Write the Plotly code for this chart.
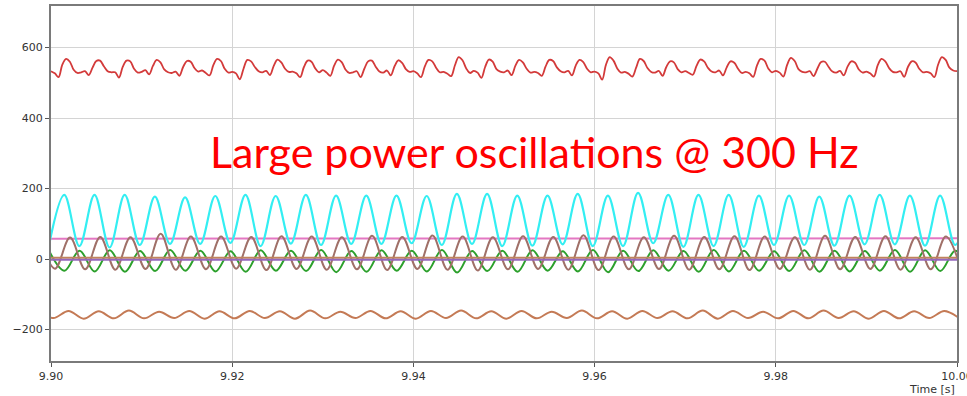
import plotly.graph_objects as go

# ---------------- data ----------------
T0 = 9.90
HALF_PERIOD = 1 / 600      # extremes of the 300 Hz oscillations
RED_STEP = 1 / 2400        # 8 samples per 300 Hz period for the red trace

x_ticks = [9.90, 9.92, 9.94, 9.96, 9.98, 10.00]
x_tick_labels = ["9.90", "9.92", "9.94", "9.96", "9.98", "10.00"]
y_ticks = [-200, 0, 200, 400, 600]

# red trace (top), 8 samples per period starting at 9.90 s
red_values = [
    533, 527, 516, 552, 568, 560, 537, 528,
    530, 533, 522, 543, 562, 563, 547, 533,
    530, 530, 515, 545, 563, 561, 540, 529,
    531, 536, 524, 548, 565, 558, 538, 530,
    528, 532, 520, 545, 562, 560, 542, 532,
    535, 528, 521, 550, 568, 562, 540, 529,
    531, 527, 510, 540, 565, 561, 545, 533,
    530, 534, 522, 548, 566, 558, 540, 531,
    532, 527, 516, 545, 563, 560, 541, 530,
    536, 529, 520, 549, 566, 559, 538, 528,
    530, 533, 516, 540, 561, 563, 546, 532,
    529, 535, 521, 547, 564, 557, 539, 531,
    533, 527, 516, 546, 565, 561, 543, 530,
    531, 526, 519, 550, 573, 564, 541, 528,
    534, 529, 514, 545, 566, 560, 539, 532,
    530, 535, 522, 548, 565, 558, 540, 529,
    531, 528, 520, 546, 565, 562, 544, 533,
    530, 534, 521, 549, 565, 559, 540, 530,
    532, 527, 509, 551, 573, 563, 541, 529,
    531, 526, 518, 543, 568, 562, 542, 531,
    529, 534, 520, 545, 561, 558, 539, 530,
    533, 528, 523, 548, 566, 561, 543, 532,
    530, 535, 521, 544, 561, 557, 540, 528,
    531, 527, 517, 549, 568, 563, 541, 530,
    534, 529, 518, 551, 571, 562, 539, 531,
    530, 533, 519, 540, 559, 560, 545, 532,
    529, 534, 521, 546, 561, 557, 538, 529,
    532, 527, 518, 550, 568, 561, 542, 531,
    530, 533, 517, 545, 561, 558, 540, 530,
    531, 527, 516, 552, 573, 565, 543, 535,
    533,
]

# cyan: alternating trough / peak, first trough at 9.89980 s
cyan_start = 9.89980
cyan_values = [
    42, 182, 37, 182, 33, 182, 40, 177, 43, 175, 43, 179, 46, 182, 37, 179,
    44, 182, 40, 180, 43, 180, 43, 180, 45, 179, 40, 185, 43, 185, 37, 180,
    38, 180, 42, 185, 37, 180, 37, 188, 45, 182, 35, 182, 37, 182, 35, 180,
    40, 180, 40, 177, 38, 180, 42, 182, 42, 180, 38, 180, 40, 180,
]

# green: alternating peak / trough, first peak at 9.89982 s
green_start = 9.89982
green_values = [
    22, -33, 24, -35, 25, -36, 23, -34, 26, -33, 24, -35, 22, -36, 25, -33,
    24, -34, 26, -37, 23, -36, 25, -33, 24, -35, 26, -38, 23, -34, 24, -36,
    25, -33, 22, -35, 26, -37, 24, -34, 25, -33, 23, -36, 26, -35, 24, -33,
    22, -34, 25, -36, 24, -35, 23, -33, 26, -36, 25, -34, 24, -33,
]

# brown (middle): alternating peak / trough, first peak at 9.89877 s
brown_start = 9.89877
brown_values = [
    60, -27, 61, -29, 63, -30, 62, -28, 72, -30, 64, -29, 64, -27, 63, -31,
    65, -28, 64, -30, 62, -29, 66, -31, 63, -28, 67, -30, 64, -32, 62, -29,
    65, -28, 63, -30, 68, -31, 64, -29, 62, -28, 66, -30, 63, -29, 65, -31,
    64, -28, 62, -30, 66, -29, 63, -28, 65, -30, 62, -29, 64, -28,
]

# brown (bottom): alternating peak / trough, first peak at 9.89860 s
bottom_start = 9.89860
bottom_values = [
    -148, -167, -147, -169, -148, -168, -146, -168, -149, -167, -147, -169,
    -148, -168, -147, -167, -148, -169, -146, -168, -149, -167, -147, -168,
    -148, -169, -147, -167, -146, -168, -148, -169, -147, -168, -149, -167,
    -146, -168, -148, -169, -147, -167, -148, -168, -146, -169, -147, -167,
    -149, -168, -147, -168, -146, -167, -148, -169, -147, -168, -148, -167,
    -147, -168,
]

# nearly flat traces
flat_times = [9.90, 9.95, 10.00]
pink_values = [58, 58, 59]
orange_zero_values = [4, 4, 4]
purple_zero_values = [-2, -2, -2]

annotation_text = "Large power oscillations @ 300 Hz"
x_title = "Time [s]"


def times(start, step, n):
    return [start + i * step for i in range(n)]


fig = go.Figure()

fig.add_trace(go.Scatter(x=flat_times, y=pink_values, mode="lines",
                         line=dict(color="#e377c2", width=2)))
fig.add_trace(go.Scatter(x=times(cyan_start, HALF_PERIOD, len(cyan_values)), y=cyan_values,
                         mode="lines", line=dict(color="#33eef2", width=2.2, shape="spline")))
fig.add_trace(go.Scatter(x=times(green_start, HALF_PERIOD, len(green_values)), y=green_values,
                         mode="lines", line=dict(color="#2ca02c", width=2, shape="spline")))
fig.add_trace(go.Scatter(x=times(brown_start, HALF_PERIOD, len(brown_values)), y=brown_values,
                         mode="lines", line=dict(color="#a07068", width=2, shape="spline")))
fig.add_trace(go.Scatter(x=flat_times, y=orange_zero_values, mode="lines",
                         line=dict(color="#c0845c", width=2)))
fig.add_trace(go.Scatter(x=flat_times, y=purple_zero_values, mode="lines",
                         line=dict(color="#9467bd", width=2)))
fig.add_trace(go.Scatter(x=times(bottom_start, HALF_PERIOD, len(bottom_values)), y=bottom_values,
                         mode="lines", line=dict(color="#c47a55", width=2, shape="spline")))
fig.add_trace(go.Scatter(x=times(T0, RED_STEP, len(red_values)), y=red_values,
                         mode="lines", line=dict(color="#d33a3a", width=1.8, shape="spline")))

axis_common = dict(
    showgrid=True, gridcolor="#d4d4d4", gridwidth=1,
    showline=True, linecolor="#7a7a7a", linewidth=2, mirror=True,
    ticks="outside", ticklen=4, tickcolor="#555",
    tickfont=dict(family="DejaVu Sans", size=11, color="#333"),
    zeroline=False, ticklabeloverflow="allow", automargin=False,
)

fig.update_layout(
    width=967, height=396,
    margin=dict(l=51, r=10, t=6, b=35),
    paper_bgcolor="white", plot_bgcolor="white",
    showlegend=False,
    xaxis=dict(range=[9.90, 10.00], tickvals=x_ticks, ticktext=x_tick_labels, **axis_common),
    yaxis=dict(range=[-289, 718], tickvals=y_ticks, **axis_common),
    annotations=[
        dict(text=annotation_text, x=0.5337, y=306, xref="paper", yref="y",
             showarrow=False, xanchor="center", yanchor="middle",
             font=dict(family="Lato", size=43, color="#ff0000")),
        dict(text=x_title, x=1, y=0, xref="paper", yref="paper", xanchor="right",
             yanchor="top", yshift=-20, showarrow=False,
             font=dict(family="DejaVu Sans", size=11, color="#333")),
    ],
)

fig.write_html("out.html")
